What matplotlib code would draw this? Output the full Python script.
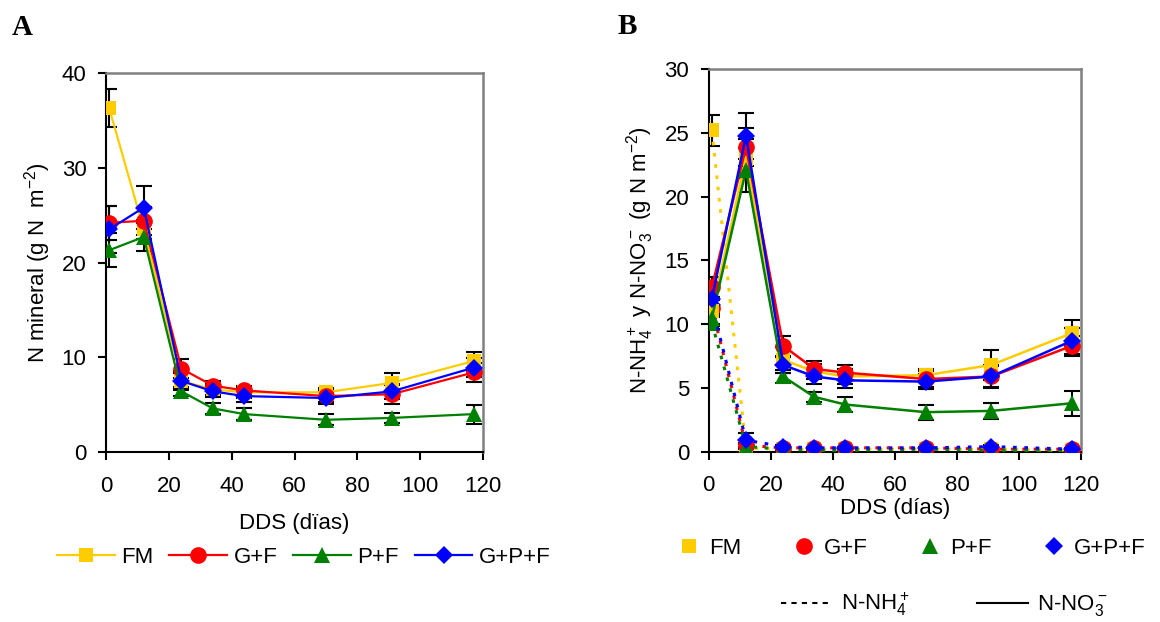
import matplotlib
matplotlib.use("Agg")
import matplotlib.pyplot as plt
from matplotlib.lines import Line2D

plt.rcParams['font.family'] = ['Liberation Sans', 'DejaVu Sans']
plt.rcParams['mathtext.default'] = 'regular'

# ---------------- data ----------------
days = [1, 12, 24, 34, 44, 70, 91, 117]
series = ["FM", "G+F", "P+F", "G+P+F"]
colors = ["#FFCC00", "#FF0000", "#008000", "#0000FF"]
markers = ["s", "o", "^", "D"]
msizes = [10, 12, 11, 9]

# Panel A: mineral N
minN_FM = [36.3, 23.5, 7.5, 6.6, 6.3, 6.3, 7.3, 9.6]
minN_GF = [24.2, 24.4, 8.8, 7.0, 6.5, 5.9, 6.1, 8.4]
minN_PF = [21.3, 22.7, 6.4, 4.6, 4.0, 3.4, 3.6, 4.0]
minN_GPF = [23.5, 25.8, 7.5, 6.4, 5.9, 5.7, 6.4, 8.9]
minN_err_FM = [2.0, 1.0, 1.0, 0.6, 0.6, 0.5, 1.0, 1.0]
minN_err_GF = [1.8, 1.5, 1.0, 0.5, 0.5, 0.6, 1.0, 1.0]
minN_err_PF = [1.8, 1.5, 0.5, 0.6, 0.6, 0.6, 0.5, 1.0]
minN_err_GPF = [2.5, 2.3, 0.8, 0.6, 0.6, 0.6, 0.8, 1.0]

# Panel B: nitrate (solid) and ammonium (dotted)
no3_FM = [11.0, 23.0, 7.2, 6.3, 5.9, 6.0, 6.8, 9.3]
no3_GF = [12.9, 23.9, 8.3, 6.5, 6.2, 5.7, 5.9, 8.3]
no3_PF = [10.5, 22.1, 5.9, 4.3, 3.7, 3.1, 3.2, 3.8]
no3_GPF = [12.0, 24.8, 6.8, 5.9, 5.6, 5.5, 5.9, 8.7]
no3_err_FM = [1.0, 1.5, 1.0, 0.6, 0.6, 0.5, 1.2, 1.0]
no3_err_GF = [0.8, 1.5, 0.8, 0.6, 0.6, 0.6, 0.9, 0.8]
no3_err_PF = [0.6, 1.7, 0.5, 0.4, 0.6, 0.6, 0.6, 1.0]
no3_err_GPF = [0.8, 1.8, 0.6, 0.6, 0.6, 0.6, 0.8, 1.0]

nh4_FM = [25.2, 0.3, 0.2, 0.2, 0.2, 0.2, 0.2, 0.1]
nh4_GF = [11.3, 0.5, 0.3, 0.3, 0.3, 0.3, 0.2, 0.2]
nh4_PF = [10.1, 0.4, 0.2, 0.1, 0.1, 0.2, 0.1, 0.1]
nh4_GPF = [11.5, 0.9, 0.4, 0.3, 0.3, 0.3, 0.4, 0.2]
nh4_err_FM = [1.2, 0.1, 0.1, 0.1, 0.1, 0.1, 0.1, 0.1]
nh4_err_GF = [0.6, 0.2, 0.1, 0.1, 0.1, 0.1, 0.1, 0.1]
nh4_err_PF = [0.5, 0.2, 0.1, 0.1, 0.1, 0.1, 0.1, 0.1]
nh4_err_GPF = [0.6, 0.6, 0.1, 0.1, 0.1, 0.1, 0.1, 0.1]

minN = [minN_FM, minN_GF, minN_PF, minN_GPF]
minN_err = [minN_err_FM, minN_err_GF, minN_err_PF, minN_err_GPF]
no3 = [no3_FM, no3_GF, no3_PF, no3_GPF]
no3_err = [no3_err_FM, no3_err_GF, no3_err_PF, no3_err_GPF]
nh4 = [nh4_FM, nh4_GF, nh4_PF, nh4_GPF]
nh4_err = [nh4_err_FM, nh4_err_GF, nh4_err_PF, nh4_err_GPF]

FS = 16

# ---------------- figure ----------------
fig = plt.figure(figsize=(11.6, 6.22), dpi=100)
axA = fig.add_axes([0.0914, 0.2733, 0.325, 0.6093])
axB = fig.add_axes([0.611, 0.2738, 0.321, 0.6148])

def style_axes(ax, ymax, ystep):
    ax.set_xlim(0, 120)
    ax.set_ylim(0, ymax)
    ax.set_xticks(range(0, 121, 20))
    ax.set_yticks(range(0, ymax + 1, ystep))
    ax.spines['top'].set_color('#808080')
    ax.spines['right'].set_color('#808080')
    for s in ['top', 'right']:
        ax.spines[s].set_linewidth(1.8)
    for s in ['left', 'bottom']:
        ax.spines[s].set_linewidth(1.5)
        ax.spines[s].set_color('black')
    ax.tick_params(axis='both', direction='out', length=6, width=1.5,
                   labelsize=FS)
    ax.tick_params(axis='x', pad=11)
    ax.tick_params(axis='y', pad=8)

ebkw = dict(fmt='none', ecolor='black', elinewidth=1.5, capsize=6,
            capthick=1.5, zorder=2)

# Panel A
for vals, errs in zip(minN, minN_err):
    axA.errorbar(days, vals, yerr=errs, **ebkw)
for vals, c, m, ms in zip(minN, colors, markers, msizes):
    axA.plot(days, vals, color=c, marker=m, markersize=ms, lw=1.6,
             markeredgewidth=0, zorder=3)
style_axes(axA, 40, 10)
axA.set_xlabel("DDS (dïas)", fontsize=FS, labelpad=12)
axA.set_ylabel("N mineral (g N  m$^{-2}$)", fontsize=FS, labelpad=6)

# Panel B
for vals, errs in zip(no3, no3_err):
    axB.errorbar(days, vals, yerr=errs, **ebkw)
for vals, errs in zip(nh4, nh4_err):
    axB.errorbar(days, vals, yerr=errs, **ebkw)
for vals, c, m, ms in zip(nh4, colors, markers, msizes):
    axB.plot(days, vals, color=c, marker=m, markersize=ms, lw=2.2,
             linestyle=(0, (1.2, 2.5)), markeredgewidth=0, zorder=3)
for vals, c, m, ms in zip(no3, colors, markers, msizes):
    axB.plot(days, vals, color=c, marker=m, markersize=ms, lw=1.8,
             markeredgewidth=0, zorder=4)
style_axes(axB, 30, 5)
axB.set_xlabel("DDS (días)", fontsize=FS, labelpad=1)
axB.set_ylabel("N-NH$_4^+$ y N-NO$_3^-$ (g N m$^{-2}$)", fontsize=FS,
               labelpad=6)

# Panel letters
fig.text(0.010, 0.955, "A", fontsize=21, fontweight='bold',
         family='Liberation Serif', va='center')
fig.text(0.532, 0.958, "B", fontsize=21, fontweight='bold',
         family='Liberation Serif', va='center')

# Legend A
hA = [Line2D([], [], color=c, marker=m, markersize=ms, lw=1.6,
             markeredgewidth=0) for c, m, ms in zip(colors, markers, msizes)]
fig.legend(hA, series, loc='center', bbox_to_anchor=(0.262, 0.104),
           ncol=4, frameon=False, fontsize=FS, handlelength=2.6,
           handletextpad=0.3, columnspacing=0.7)

# Legend B row 1 (markers only)
hB = [Line2D([], [], color=c, marker=m, markersize=ms, lw=0,
             markeredgewidth=0) for c, m, ms in zip(colors, markers, msizes)]
fig.legend(hB, series, loc='center', bbox_to_anchor=(0.786, 0.118),
           ncol=4, frameon=False, fontsize=FS, handlelength=1.0,
           handletextpad=0.4, columnspacing=2.3)

# Legend B row 2 (line styles)
hL = [Line2D([], [], color='black', lw=1.5, linestyle=(0, (2.5, 2.5))),
      Line2D([], [], color='black', lw=1.5)]
fig.legend(hL, ["N-NH$_4^+$", "N-NO$_3^-$"], loc='center',
           bbox_to_anchor=(0.814, 0.028), ncol=2, frameon=False,
           fontsize=FS, handlelength=2.3, handletextpad=0.4,
           columnspacing=3.0)

fig.savefig("out.png", dpi=100)
